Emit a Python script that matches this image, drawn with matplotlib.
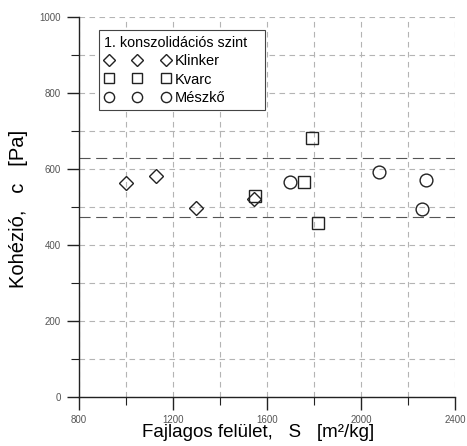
import matplotlib
matplotlib.use("Agg")
import matplotlib.pyplot as plt
from matplotlib.ticker import MultipleLocator

plt.rcParams['font.family'] = ['Liberation Sans', 'DejaVu Sans']

# data
klinker_s = [1000, 1130, 1298, 1545]
klinker_c = [562, 581, 497, 521]
kvarc_s = [1549, 1757, 1790, 1818]
kvarc_c = [528, 566, 681, 457]
meszko_s = [1698, 2077, 2262, 2279]
meszko_c = [566, 593, 494, 570]
ref_levels = [630, 474]

fig = plt.figure(figsize=(4.67, 4.46), dpi=100)
ax = fig.add_axes([0.169, 0.110, 0.805, 0.852])

ax.set_xlim(800, 2400)
ax.set_ylim(0, 1000)
ax.xaxis.set_major_locator(MultipleLocator(400))
ax.xaxis.set_minor_locator(MultipleLocator(200))
ax.yaxis.set_major_locator(MultipleLocator(200))
ax.yaxis.set_minor_locator(MultipleLocator(100))

ax.grid(True, which='both', color='#b4b4b4', linestyle=(0, (5, 4)), linewidth=0.8)
ax.set_axisbelow(True)

for s in ['top', 'right']:
    ax.spines[s].set_visible(False)
for s in ['left', 'bottom']:
    ax.spines[s].set_linewidth(1.0)
    ax.spines[s].set_color('#222222')

ax.tick_params(which='major', direction='out', length=9, width=1.0, color='#222222',
               labelsize=7, labelcolor='#555555', pad=4)
ax.tick_params(which='minor', direction='out', length=5.5, width=0.8, color='#222222')

for lv in ref_levels:
    ax.axhline(lv, color='#555555', linestyle=(0, (10, 5)), linewidth=0.8, zorder=1)

mk = dict(linestyle='none', markerfacecolor='none', markeredgecolor='#222222',
          markeredgewidth=1.0)
ax.plot(kvarc_s, kvarc_c, marker='s', markersize=8.7, label='Kvarc', **mk)
ax.plot(klinker_s, klinker_c, marker='D', markersize=7.3, label='Klinker', **mk)
ax.plot(meszko_s, meszko_c, marker='o', markersize=9.2, label='Mészkő', **mk)

h, l = ax.get_legend_handles_labels()
order = [1, 0, 2]
leg = ax.legend([h[i] for i in order], [l[i] for i in order],
                title='1. konszolidációs szint   ', numpoints=3, loc='upper left',
                bbox_to_anchor=(0.053, 0.965), fontsize=10.5, title_fontsize=10.3,
                frameon=True, fancybox=False, edgecolor='#444444',
                handlelength=4.5, handletextpad=0.35, labelspacing=0.3,
                borderpad=0.38, borderaxespad=0, markerscale=0.8,
                alignment='left')
leg.get_frame().set_linewidth(0.8)
leg.get_frame().set_alpha(1)

ax.set_xlabel('Fajlagos felület,   S   [m²/kg]', fontsize=13.5)
ax.set_ylabel('Kohézió,   c   [Pa]', fontsize=14.5)
ax.xaxis.set_label_coords(0.476, -0.071)
ax.yaxis.set_label_coords(-0.135, 0.495)

fig.savefig('out.png', dpi=100)
